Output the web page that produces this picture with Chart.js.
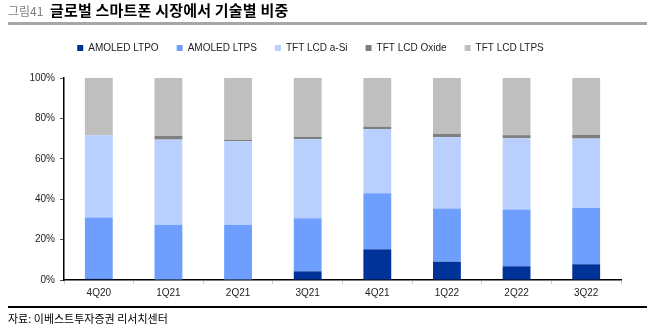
<!DOCTYPE html>
<html>
<head>
<meta charset="utf-8">
<script src="https://cdn.jsdelivr.net/npm/chart.js@4.4.1/dist/chart.umd.min.js"></script>
<style>
  html, body { margin: 0; padding: 0; background: #fff; }
  body { width: 651px; height: 327px; position: relative; overflow: hidden; }
  #wrap { position: absolute; left: 0; top: 0; width: 651px; height: 327px; }
  .t { position: absolute; white-space: nowrap; font-family: "Noto Sans CJK KR", sans-serif; }
  #fig { left: 8px; top: 3px; font-size: 12px; color: #808080; line-height: 16px; }
  #title { left: 50px; top: 0px; font-size: 15px; font-weight: bold; color: #000; line-height: 20px; letter-spacing: 0.2px; }
  #rule { position: absolute; left: 8px; top: 22px; width: 639px; height: 3px; background: #a6a6a6; }
  #foot { position: absolute; left: 8px; top: 306px; width: 639px; height: 1.5px; background: #000; }
  #src { left: 8px; top: 310px; font-size: 11px; color: #000; line-height: 16px; }
</style>
</head>
<body>
<div id="wrap"><canvas id="c" width="651" height="327"></canvas></div>
<div class="t" id="fig">그림41</div>
<div class="t" id="title">글로벌 스마트폰 시장에서 기술별 비중</div>
<div id="rule"></div>
<div id="foot"></div>
<div class="t" id="src">자료: 이베스트투자증권 리서치센터</div>
<script>
const categories = ["4Q20", "1Q21", "2Q21", "3Q21", "4Q21", "1Q22", "2Q22", "3Q22"];
const amoledLTPO = [0.7, 0, 0, 4.3, 15.2, 9.1, 6.8, 7.8];
const amoledLTPS = [30.3, 27.4, 27.3, 26.3, 27.7, 26.3, 28.1, 27.8];
const tftLcdASi = [40.6, 42.1, 41.4, 39.1, 31.8, 35.3, 35.3, 34.4];
const tftLcdOxide = [0, 1.8, 0.7, 1.1, 1.1, 1.6, 1.5, 1.8];
const tftLcdLTPS = [28.4, 28.7, 30.6, 29.2, 24.2, 27.7, 28.3, 28.2];
const yTicks = [0, 20, 40, 60, 80, 100];

const seriesNames = ["AMOLED LTPO", "AMOLED LTPS", "TFT LCD a-Si", "TFT LCD Oxide", "TFT LCD LTPS"];
const seriesData = [amoledLTPO, amoledLTPS, tftLcdASi, tftLcdOxide, tftLcdLTPS];
const seriesColors = ["#00339a", "#6f9ffe", "#b9d0fe", "#7f7f7f", "#bfbfbf"];

const legendHeight = {
  id: 'legendHeight',
  beforeInit(chart) {
    const fit = chart.legend.fit;
    chart.legend.fit = function () {
      fit.bind(chart.legend)();
      this.height = 53;
    };
  }
};

new Chart(document.getElementById('c'), {
  type: 'bar',
  data: {
    labels: categories,
    datasets: seriesData.map((d, i) => ({
      label: seriesNames[i],
      data: d,
      backgroundColor: seriesColors[i],
      borderWidth: 0,
      barPercentage: 0.4,
      categoryPercentage: 1.0
    }))
  },
  plugins: [legendHeight],
  options: {
    responsive: false,
    animation: false,
    layout: { padding: { left: 0, right: 30, top: 25, bottom: 0 } },
    plugins: {
      legend: {
        position: 'top',
        labels: {
          boxWidth: 6,
          boxHeight: 6,
          padding: 18,
          color: '#222',
          font: { family: 'Liberation Sans', size: 10 }
        }
      },
      tooltip: { enabled: false }
    },
    scales: {
      x: {
        stacked: true,
        grid: { display: true, drawOnChartArea: false, offset: true, tickLength: 4, color: '#cfcfcf' },
        border: { display: true, color: '#000', width: 1.5 },
        ticks: { color: '#222', padding: 3, font: { family: 'Liberation Sans', size: 10 } },
        afterFit(s) { s.height = 47; }
      },
      y: {
        stacked: true,
        min: 0,
        max: 100,
        afterBuildTicks(s) { s.ticks = yTicks.map(v => ({ value: v })); },
        grid: { display: true, drawOnChartArea: false, tickLength: 4, color: '#555' },
        border: { display: true, color: '#000', width: 1.5 },
        ticks: { color: '#222', padding: 5, font: { family: 'Liberation Sans', size: 10 }, callback: v => v + '%' },
        afterFit(s) { s.width = 64; }
      }
    }
  }
});
</script>
</body>
</html>
